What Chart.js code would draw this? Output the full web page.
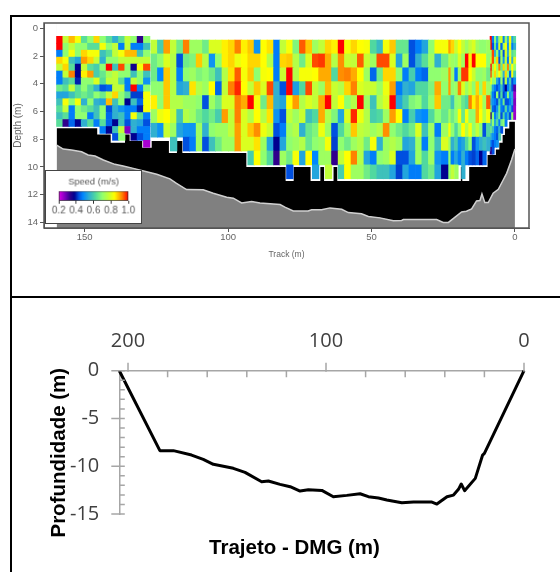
<!DOCTYPE html>
<html>
<head>
<meta charset="utf-8">
<title>Perfil de velocidade</title>
<script src="https://cdn.jsdelivr.net/npm/chart.js@4"></script>
<style>
    body { margin: 0; background: #fff; width: 560px; height: 572px; overflow: hidden; position: relative; }
    canvas { position: absolute; }
    .linea { position: absolute; background: #000; }
    #grafico_adcp { left: 0; top: 0; filter: blur(0.45px); }
    #grafico_leyenda { left: 45px; top: 170px; background: #fff; border: 1.5px solid #444; filter: blur(0.3px); }
    #grafico_perfil { left: 0; top: 298px; filter: blur(0.3px); }
</style>
</head>
<body>
<canvas id="grafico_adcp" width="560" height="296"></canvas>
<canvas id="grafico_leyenda" width="97" height="54"></canvas>
<canvas id="grafico_perfil" width="560" height="274"></canvas>
<div class="linea" style="left:10px;top:15px;width:550px;height:2px"></div>
<div class="linea" style="left:10px;top:296px;width:550px;height:2px"></div>
<div class="linea" style="left:10px;top:15px;width:2px;height:557px"></div>
<script>
const _ = null

// escala de color de la velocidad (m/s)
const speedStops = [0.2, 0.27, 0.33, 0.38, 0.43, 0.48, 0.55, 0.62, 0.7, 0.78, 0.84, 0.88, 0.93, 1.0]
const speedColors = ['#e000e8', '#8000c0', '#30008c', '#000090', '#0050e0', '#0088ff', '#30b0d0', '#50d8a0', '#90ff70', '#c8ff30', '#ffff00', '#ffc800', '#ff8000', '#ff0000']

// bloque izquierdo: celdas de 0.5 m
const leftTracks = [158.7, 156.5, 154.4, 152.2, 150.1, 147.9, 145.7, 143.6, 141.4, 139.2, 137.1, 134.9, 132.8, 130.6, 128.4]
const leftDepths = [0.58, 1.08, 1.58, 2.08, 2.58, 3.08, 3.58, 4.08, 4.58, 5.08, 5.58, 6.08, 6.58, 7.08, 7.58, 8.08]
const leftRows = [
    [1.0, .77, .89, .83, .63, .70, .87, .70, .63, .55, .63, .77, .70, .33, .70],
    [1.0, .70, .77, .70, .70, .63, .63, .83, .70, .77, .47, .77, .47, .47, .58],
    [.47, .70, .83, .70, .87, .83, .83, .58, .63, .77, .83, .89, .89, .58, .70],
    [.87, .83, .58, .53, .91, .87, .77, .55, .70, .70, .77, .77, .77, .77, .77],
    [.77, .87, .63, .38, .77, .63, .60, .70, 1.0, .58, .96, .70, .36, .83, .96],
    [.47, .77, .93, .38, .85, .91, .60, .65, .73, .77, .70, .70, .58, .70, .58],
    [.47, .58, .63, .40, .70, .70, .80, .63, .77, .77, .63, .47, .77, .70, .50],
    [.66, .63, .77, .63, .70, .63, .55, .43, .45, .77, .77, .47, 1.0, .47, .70],
    [.53, .53, .58, .63, .66, .63, .70, .66, .77, .87, .70, .63, .42, .42, .83],
    [.58, .83, .70, .83, .55, .70, .55, .53, .89, .58, .70, .38, .58, .45, .83],
    [.63, .77, .47, .70, .66, .63, .58, .70, .43, .55, .50, .47, .47, .40, .83],
    [.58, .63, .47, .70, .70, .47, .58, .70, .45, .55, .58, .47, .83, .63, .47],
    [.63, .33, .45, .38, .55, .63, .47, .63, .45, .38, .58, .43, .55, .53, .43],
    [_, _, _, _, _, _, _, .47, .38, .58, .77, .27, .55, .47, .47],
    [_, _, _, _, _, _, _, _, _, .43, .70, _, .38, .43, .47],
    [_, _, _, _, _, _, _, _, _, _, _, _, _, _, .24],
]

// bloque central: celdas de 1 m
const midTracks = [125.8, 123.5, 121.3, 119.0, 116.8, 114.5, 112.3, 110.0, 107.8, 105.5, 103.3, 101.0, 98.8, 96.5, 94.3, 92.0, 89.8, 87.5, 85.3, 83.0, 80.8, 78.5, 76.3, 74.0, 71.8, 69.5, 67.3, 65.0, 62.8, 60.5, 58.3, 56.0, 53.8, 51.5, 49.3, 47.0, 44.8, 42.5, 40.3, 38.0, 35.8, 33.5, 31.3, 29.0, 26.8, 24.5]
const midDepths = [0.85, 1.85, 2.85, 3.85, 4.85, 5.85, 6.85, 7.85, 8.85, 9.85]
const midRows = [
    [.77, .60, .91, .77, .66, .93, .72, .72, .66, .80, .80, .85, .87, .93, .85, .88, .50, .84, .86, .47,
     .77, .83, .68, .95, .88, .72, .77, .87, .85, 1.0, .83, .87, .84, .83, .62, .57, .83, .88, .65, .65, .43, .47, .53, .70, .83, .83],
    [.66, .70, .80, .75, .43, .66, .68, .88, .75, .50, .70, .85, .87, .82, .84, .87, .87, .84, .75, .47,
     .87, .88, .75, .66, .80, .96, .97, .90, .75, .92, .78, .77, .95, .78, .72, .96, .96, .80, .53, .72, .43, .55, .63, .72, .55, .66],
    [.66, .48, .88, .75, .47, .70, .72, .68, .70, .66, .58, .75, .86, .95, .83, .88, .70, .83, .84, .47,
     .78, 1.0, .75, .83, .83, .84, .90, .90, .62, .92, .93, .90, .84, .72, .45, .66, .87, .87, .70, .47, .60, .47, .45, .70, .70, .72],
    [.70, .70, .88, .75, .53, .55, .86, .75, .72, .84, .45, .77, .93, .98, .84, .77, .88, .80, .96, .55,
     .43, 1.0, .52, .62, .96, .77, .72, .89, .78, .75, .87, .93, .80, .78, .78, .72, .82, .91, .47, .55, .53, .62, .62, .68, .90, .70],
    [.85, .70, .88, .75, .75, .72, .72, .70, .43, .72, .66, .80, .80, .93, .90, 1.0, .83, .66, .89, .55,
     .53, .84, .91, .75, .80, .77, .90, 1.0, .77, .84, .70, .75, 1.0, .72, .58, .75, .80, 1.0, .53, .60, .68, .70, .62, .70, .88, .66],
    [.72, .82, .84, .78, .58, .75, .72, .66, .62, .66, .60, .91, .77, .93, .80, .75, .84, .75, .86, .50,
     .43, .77, .72, .78, .58, .62, .90, .75, .68, .53, .80, .98, .82, .75, .60, .62, .72, .91, .84, .47, .60, .50, .48, .62, .70, .65],
    [.55, .50, .78, .72, .53, .50, .50, .72, .55, .70, .72, .72, .77, .91, .80, .88, .92, .82, .78, .43,
     .47, .72, .75, .55, .65, .68, .82, .72, .43, .62, .72, .88, .77, .75, .72, .75, .92, .70, .66, .62, .66, .80, .58, .72, .47, .72],
    [_, _, _, .58, _, .43, .47, .72, .43, .58, .66, .72, .72, .91, .80, .80, .86, .72, .53, .38,
     .53, .70, .72, .75, .65, .70, .72, .83, .42, .70, .66, .72, .75, .66, .83, .55, .72, .75, .72, .53, .55, .72, .47, .70, .58, .80],
    [_, _, _, _, _, _, _, _, _, _, _, _, _, _, _, .60, .84, .70, .62, .33,
     .72, .66, .83, .53, .84, .48, .72, .72, .33, .77, .84, .93, .75, .53, .47, .70, .72, .80, .43, .43, .53, .72, .62, .72, .50, .47],
    [_, _, _, _, _, _, _, _, _, _, _, _, _, _, _, _, _, _, _, _,
     _, .43, _, _, _, .53, _, .77, _, .60, .84, .72, .72, .66, .62, .58, .58, .53, .42, .53, .47, .47, .62, .66, .53, .38],
]

// columnas angostas cerca de la orilla: celdas de 1 m
const narrowTracks = [22.9, 21.7, 20.4, 19.2, 18.0, 16.7, 15.5, 14.3, 13.0, 11.8, 10.6, 9.3]
const narrowRows = [
    [.91, .87, .78, .84, .77, .72, .77, .80, .72, .70, .70, .72],
    [.75, .72, .70, .80, .72, 1.0, .85, 1.0, .84, .84, .84, .70],
    [.91, .72, .47, .72, .97, .97, .84, .78, .70, .70, .72, .66],
    [.91, .70, .72, .93, .80, .72, .78, .70, .87, .70, .87, .72],
    [.66, .58, .70, .72, .65, .62, .93, .85, .90, .85, .72, .95],
    [.72, .66, .70, .83, .65, .83, .70, .70, .90, .84, .75, .83],
    [.83, .70, .62, .70, .84, .75, .83, .70, .77, .70, .43, .62],
    [.72, .55, .60, .50, .53, .62, .70, .43, .50, .55, .58, .55],
    [.70, .47, .53, .47, .55, .47, .43, .42, .45, .38, .45, _],
    [.70, .77, .72, _, .55, _, _, _, _, _, _, _],
]

// ultimas columnas junto a la orilla: celdas de 0.5 m
const shoreTracks = [8.3, 7.6, 6.8, 6.1, 5.3, 4.6, 3.8, 3.1, 2.3, 1.6, 0.8, 0.1]
const shoreRows = [
    [1.0, .47, .70, .53, .72, .80, .47, .72, .55, .84, .53, .62],
    [1.0, .43, .65, .47, .80, .45, .72, .84, .50, .80, .47, .55],
    [.72, .96, .55, .70, .47, .72, .43, .80, .55, .80, .62, .66],
    [.80, .96, .70, .87, .43, .72, .50, .77, .47, .84, .55, .80],
    [1.0, .75, .84, .72, .93, .65, .87, .70, .93, .66, .84, .70],
    [.96, .75, .87, .75, .84, .72, .55, .87, .70, .45, .83, .60],
    [.84, .70, .72, .53, .45, .70, .43, .75, .47, .60, .43, .50],
    [.70, .53, .47, .43, .47, .58, .45, .38, .47, .55, .43, .30],
    [.62, .47, .43, .70, .43, .62, .42, .47, .70, .50, .53, .25],
    [.55, .50, .47, .43, .60, .47, .66, .43, .43, .47, .53, .27],
    [.66, .45, .43, .50, .66, .47, .45, .62, .47, .55, .43, .25],
    [.35, .70, .47, .55, .66, .43, .62, .47, .55, .43, .70, .25],
    [.55, .70, .53, .62, .47, .66, .70, .47, _, _, _, _],
    [.66, .58, .47, .45, .55, .43, _, _, _, _, _, _],
    [.55, .50, .47, .43, .60, _, _, _, _, _, _, _],
    [.47, .43, .47, .50, _, _, _, _, _, _, _, _],
    [.33, .43, _, _, _, _, _, _, _, _, _, _],
]

// fondo del rio en el grafico ADCP
const bedTrack = [159.8, 157.5, 154.6, 151.1, 148.8, 146.4, 143.5, 139.5, 136.6, 133.1, 128.4, 124.9, 120.3, 118, 114.5, 108.7, 105.2, 100.5, 98.2, 95.3, 91.8, 88.9, 81.9, 80.2, 77.3, 72.1, 70.9, 67.4, 64.5, 60.4, 58.1, 53.5, 51.1, 47.1, 42.4, 39.5, 38.9, 27.3, 25, 23.2, 18.6, 16.9, 15.1, 13.4, 12.2, 11.5, 10.5, 9.3, 7.6, 5.8, 4.1, 2.9, 1.2, 0]
const bedDepth = [8.42, 8.71, 8.78, 8.90, 9.14, 9.21, 9.50, 9.81, 9.93, 10.10, 10.34, 10.53, 10.86, 11.18, 11.63, 11.65, 11.89, 12.18, 12.25, 12.59, 12.49, 12.59, 12.71, 12.90, 13.17, 13.17, 13.09, 13.09, 12.95, 13.05, 13.29, 13.38, 13.57, 13.67, 13.88, 13.86, 13.79, 13.79, 14.0, 14.0, 13.24, 13.19, 13.02, 12.45, 12.42, 11.94, 12.57, 12.57, 11.89, 11.61, 10.94, 10.46, 9.50, 8.71]

// limite inferior de las celdas medidas
const limitTrack = [160, 145.3, 145.3, 140.6, 140.6, 136.3, 136.3, 134, 134, 129.6, 129.6, 127, 127, 120.3, 120.3, 118.2, 118.2, 115.6, 115.6, 93.3, 93.3, 79.6, 79.6, 77.5, 77.5, 70.9, 70.9, 68.2, 68.2, 66.2, 66.2, 63.6, 63.6, 61.6, 61.6, 19.2, 19.2, 18, 18, 16.3, 16.3, 9.9, 9.9, 7, 7, 5.8, 5.8, 4.65, 4.65, 3.84, 3.84, 2.32, 2.32, -0.3]
const limitDepth = [7.14, 7.14, 7.58, 7.58, 8.18, 8.18, 7.58, 7.58, 8.06, 8.06, 8.54, 8.54, 8.06, 8.06, 8.92, 8.92, 8.06, 8.06, 8.92, 8.92, 9.93, 9.93, 10.94, 10.94, 9.93, 9.93, 10.94, 10.94, 9.93, 9.93, 10.94, 10.94, 9.93, 9.93, 10.94, 10.94, 9.93, 9.93, 10.94, 10.94, 9.93, 9.93, 9.06, 9.06, 8.66, 8.66, 8.18, 8.18, 7.63, 7.63, 7.15, 7.15, 6.67, 6.67]

const adcpTicksX = [150, 100, 50, 0]
const adcpTicksY = [0, 2, 4, 6, 8, 10, 12, 14]
const legendTicks = [0.2, 0.4, 0.6, 0.8, 1.0]

// perfil del grafico inferior
const perfilTrack = [204.4, 183.9, 177.1, 167.9, 162, 156.9, 146.8, 140.9, 132.5, 129.1, 123.2, 118.1, 113.1, 108.9, 102.1, 96.3, 89.5, 82.8, 78.6, 73.5, 69.3, 61.7, 55.8, 46.5, 44, 38.9, 35.6, 33.1, 31.7, 30, 24.6, 20.9, 20, 0]
const perfilDepth = [0, -8.37, -8.37, -8.83, -9.28, -9.8, -10.22, -10.64, -11.62, -11.55, -11.9, -12.14, -12.6, -12.46, -12.53, -13.19, -13.05, -12.88, -13.19, -13.33, -13.54, -13.82, -13.75, -13.75, -13.96, -13.19, -13.02, -12.42, -11.86, -12.56, -11.27, -8.83, -8.65, 0]
const perfilTicksX = [200, 180, 160, 140, 120, 100, 80, 60, 40, 20, 0]
const perfilLabelsX = [200, 100, 0]
const perfilTicksY = [0, -1, -2, -3, -4, -5, -6, -7, -8, -9, -10, -11, -12, -13, -14, -15]
const perfilLabelsY = [0, -5, -10, -15]

const smallFont = "'Liberation Sans', sans-serif"

function hex_to_rgb(hex) {
    return [1, 3, 5].map(i => parseInt(hex.slice(i, i + 2), 16))
}

// color de una velocidad, mezclando entre los dos colores vecinos de la escala
function speed_color(v) {
    let i = 0
    while (i < speedStops.length - 2 && v > speedStops[i + 1]) i++
    const t = Math.min(1, Math.max(0, (v - speedStops[i]) / (speedStops[i + 1] - speedStops[i])))
    const a = hex_to_rgb(speedColors[i])
    const b = hex_to_rgb(speedColors[i + 1])
    return `rgb(${a.map((c, k) => Math.round(c + (b[k] - c) * t)).join(',')})`
}

// un dataset de barras flotantes por cada bloque de celdas
function cell_dataset(rows, tracks, depths, cellHeight, thickness) {
    const cells = []
    rows.forEach((row, r) => row.forEach((v, c) => {
        if (v !== null) cells.push({ x: tracks[c], y: [depths[r], depths[r] + cellHeight], v: v })
    }))
    return {
        data: cells,
        backgroundColor: cells.map(cell => speed_color(cell.v)),
        barThickness: thickness,
        borderWidth: 0,
        grouped: false,
        order: 1,
    }
}

function to_points(xs, ys) {
    return xs.map((x, i) => ({ x: x, y: ys[i] }))
}

const frame_plugin = {
    id: 'frame_plugin',
    afterDraw(chart) {
        const { ctx, chartArea: a } = chart
        ctx.save()
        ctx.strokeStyle = '#555'
        ctx.lineWidth = 1.5
        ctx.strokeRect(a.left, a.top, a.right - a.left, a.bottom - a.top)
        ctx.restore()
    }
}

new Chart(document.querySelector('#grafico_adcp'), {
    type: 'bar',
    data: {
        datasets: [
            cell_dataset(leftRows, leftTracks, leftDepths, 0.5, 6.5),
            cell_dataset(midRows, midTracks, midDepths, 1, 6.6),
            cell_dataset(narrowRows, narrowTracks, midDepths, 1, 3.6),
            cell_dataset(shoreRows, shoreTracks, leftDepths.concat([8.58]), 0.5, 2.2),
            {
                type: 'line',
                data: to_points(limitTrack, limitDepth),
                borderColor: '#fff',
                borderWidth: 2,
                backgroundColor: '#fff',
                fill: { value: -0.38 },
                pointRadius: 0,
                order: 2,
            },
            {
                type: 'line',
                data: to_points(bedTrack, bedDepth),
                borderWidth: 0,
                backgroundColor: '#000',
                fill: { value: -0.38 },
                pointRadius: 0,
                order: 3,
            },
            {
                type: 'line',
                data: to_points(bedTrack, bedDepth),
                borderColor: '#d0d0d0',
                borderWidth: 1.5,
                backgroundColor: '#808080',
                fill: { value: 14.4 },
                pointRadius: 0,
                order: 1.5,
            },
        ]
    },
    options: {
        responsive: false,
        animation: false,
        layout: { padding: { left: 12, right: 31, top: 23, bottom: 36 } },
        scales: {
            x: {
                type: 'linear',
                reverse: true,
                offset: false,
                min: -4.9,
                max: 164.2,
                afterBuildTicks: scale => { scale.ticks = adcpTicksX.map(v => ({ value: v })) },
                afterFit: scale => { scale.height = 32 },
                grid: { drawOnChartArea: false, offset: false, tickLength: 4, tickColor: '#555', tickWidth: 1 },
                border: { color: '#555' },
                ticks: { color: '#666', font: { family: smallFont, size: 9.5 }, padding: 0, maxRotation: 0, autoSkip: false },
                title: { display: true, text: 'Track (m)', color: '#666', font: { family: smallFont, size: 8.5 }, padding: 0 },
            },
            y: {
                reverse: true,
                min: -0.38,
                max: 14.4,
                afterBuildTicks: scale => { scale.ticks = adcpTicksY.map(v => ({ value: v })) },
                afterFit: scale => { scale.width = 32 },
                grid: { drawOnChartArea: false, tickLength: 4, tickColor: '#555', tickWidth: 1 },
                border: { color: '#555' },
                ticks: { color: '#666', font: { family: smallFont, size: 9.5 }, padding: 2, autoSkip: false },
                title: { display: true, text: 'Depth (m)', color: '#666', font: { family: smallFont, size: 10 }, padding: 0 },
            },
        },
        plugins: { legend: { display: false }, tooltip: { enabled: false } },
    },
    plugins: [frame_plugin],
})

new Chart(document.querySelector('#grafico_leyenda'), {
    type: 'bar',
    data: {
        labels: ['Speed'],
        datasets: [{
            data: [[legendTicks[0], legendTicks[legendTicks.length - 1]]],
            backgroundColor: ctx => {
                const a = ctx.chart.chartArea
                if (!a) return '#000'
                const scale = ctx.chart.scales.x
                const grad = ctx.chart.ctx.createLinearGradient(a.left, 0, a.right, 0)
                speedStops.forEach((s, i) => grad.addColorStop((scale.getPixelForValue(s) - a.left) / (a.right - a.left), speedColors[i]))
                return grad
            },
            borderColor: '#333',
            borderWidth: 1,
            borderSkipped: false,
            barPercentage: 1,
            categoryPercentage: 1,
        }]
    },
    options: {
        indexAxis: 'y',
        responsive: false,
        animation: false,
        layout: { padding: { left: 13, right: 13 } },
        scales: {
            x: {
                type: 'linear',
                min: legendTicks[0],
                max: legendTicks[legendTicks.length - 1],
                afterBuildTicks: scale => { scale.ticks = legendTicks.map(v => ({ value: v })) },
                afterFit: scale => { scale.height = 23 },
                grid: { drawOnChartArea: false, tickLength: 3, tickColor: '#333' },
                border: { display: false },
                ticks: { color: '#555', font: { family: smallFont, size: 10 }, padding: 1, maxRotation: 0, autoSkip: false, callback: v => v.toFixed(1) },
            },
            y: { display: false },
        },
        plugins: {
            legend: { display: false },
            tooltip: { enabled: false },
            title: { display: true, text: 'Speed (m/s)', color: '#555', font: { family: smallFont, size: 9.5, weight: 'normal' }, padding: { top: 6, bottom: 3.5 } },
        },
    },
})

// marcas del grafico inferior y titulos de los ejes
const perfil_plugin = {
    id: 'perfil_plugin',
    afterDraw(chart) {
        const { ctx, chartArea: a, scales } = chart
        ctx.save()
        ctx.strokeStyle = '#a6a6a6'
        ctx.lineWidth = 1.5
        ctx.beginPath()
        perfilTicksX.forEach(v => {
            const px = scales.x.getPixelForValue(v)
            const major = perfilLabelsX.includes(v)
            ctx.moveTo(px, a.top - (major ? 8 : 0))
            ctx.lineTo(px, a.top + (major ? 1 : 6.5))
        })
        perfilTicksY.forEach(v => {
            const py = scales.y.getPixelForValue(v)
            const major = perfilLabelsY.includes(v)
            ctx.moveTo(a.left - (major ? 8 : 0), py)
            ctx.lineTo(a.left + 5.5, py)
        })
        ctx.stroke()
        ctx.fillStyle = '#000'
        ctx.font = "bold 20.5px 'Liberation Sans', sans-serif"
        ctx.textAlign = 'center'
        ctx.textBaseline = 'middle'
        ctx.fillText('Trajeto - DMG (m)', 294.5, 250)
        ctx.translate(59, 154.7)
        ctx.rotate(-Math.PI / 2)
        ctx.fillText('Profundidade (m)', 0, 0)
        ctx.restore()
    }
}

new Chart(document.querySelector('#grafico_perfil'), {
    type: 'line',
    data: {
        datasets: [{
            data: to_points(perfilTrack, perfilDepth),
            borderColor: '#000',
            borderWidth: 3,
            borderJoinStyle: 'round',
            pointRadius: 0,
            fill: false,
            clip: false,
        }]
    },
    options: {
        responsive: false,
        animation: false,
        layout: { padding: { left: 20, right: 36, top: 12, bottom: 58 } },
        scales: {
            x: {
                type: 'linear',
                position: 'top',
                reverse: true,
                min: 0,
                max: 204.4,
                afterBuildTicks: scale => { scale.ticks = perfilTicksX.map(v => ({ value: v })) },
                afterFit: scale => { scale.height = 60.7 },
                grid: { display: false },
                border: { color: '#a6a6a6', width: 1.5 },
                ticks: {
                    color: '#404040',
                    font: { family: "'Open Sans', sans-serif", size: 20 },
                    padding: 9,
                    maxRotation: 0,
                    autoSkip: false,
                    callback: v => perfilLabelsX.includes(v) ? v : '',
                },
            },
            y: {
                min: -15,
                max: 0,
                afterBuildTicks: scale => { scale.ticks = perfilTicksY.map(v => ({ value: v })) },
                afterFit: scale => { scale.width = 99.3 },
                grid: { display: false },
                border: { color: '#a6a6a6', width: 1.5 },
                ticks: {
                    color: '#404040',
                    font: { family: "'Open Sans', sans-serif", size: 20 },
                    padding: 12,
                    autoSkip: false,
                    callback: v => perfilLabelsY.includes(v) ? v : '',
                },
            },
        },
        plugins: { legend: { display: false }, tooltip: { enabled: false } },
    },
    plugins: [perfil_plugin],
})
</script>
</body>
</html>
